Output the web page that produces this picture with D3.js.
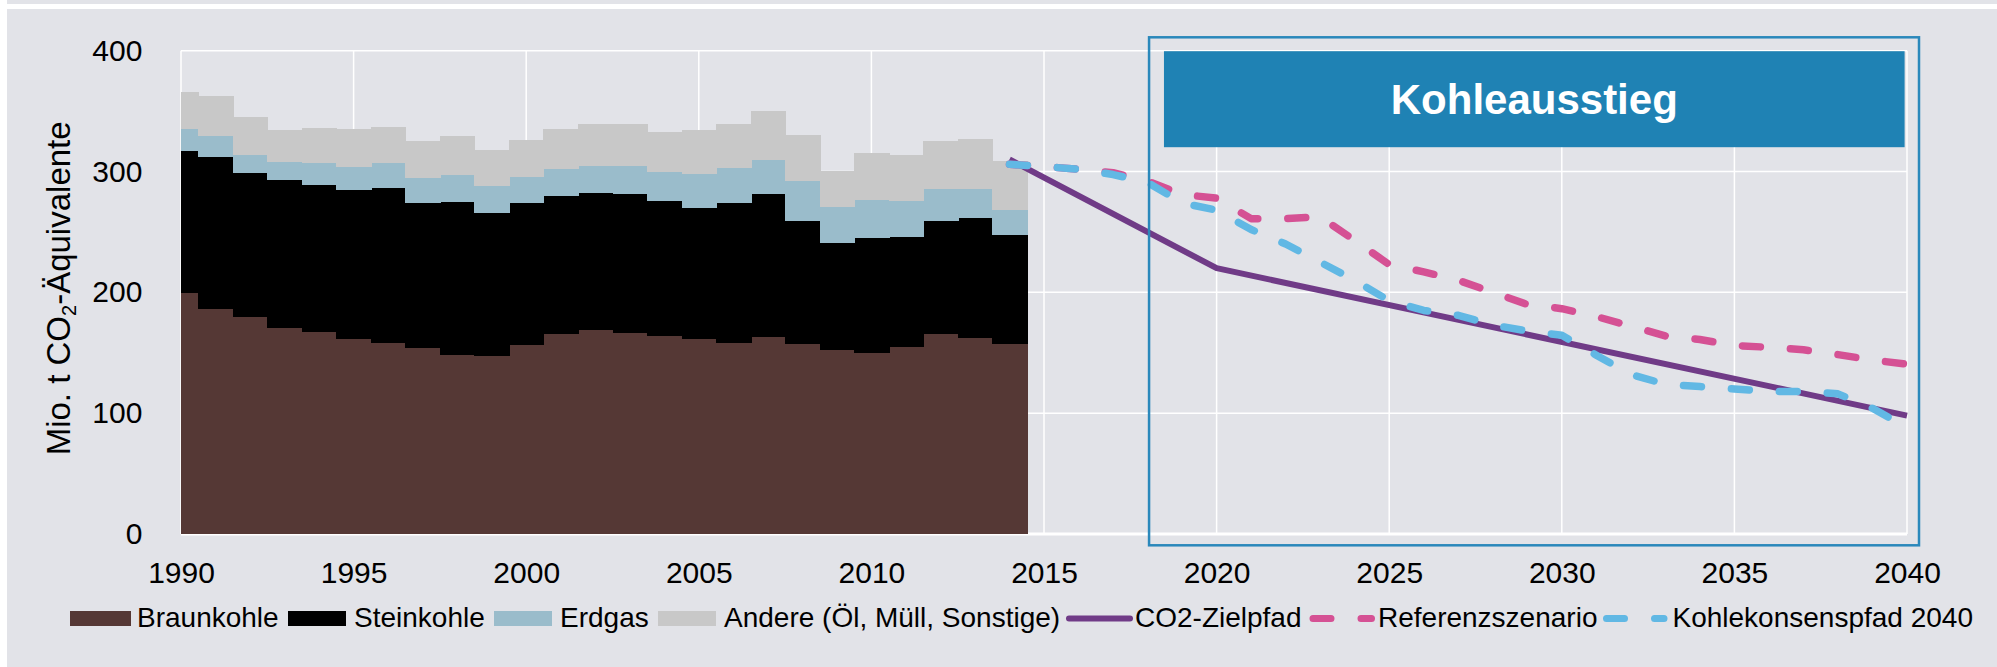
<!DOCTYPE html>
<html><head><meta charset="utf-8">
<script src="https://cdn.jsdelivr.net/npm/d3@7"></script>
<style>
html,body{margin:0;padding:0;background:#fff;}
svg{display:block;font-family:"Liberation Sans",Arial,sans-serif;}
</style></head><body>
<svg id="chart" width="1997" height="667"></svg>
<script>
// ---- data ----
const histYears = [1990,1991,1992,1993,1994,1995,1996,1997,1998,1999,2000,2001,2002,2003,2004,2005,2006,2007,2008,2009,2010,2011,2012,2013,2014];
const braunkohle = [200.0,186.8,180.2,171.1,168.0,162.0,158.9,154.5,148.7,148.2,157.0,166.1,170.0,167.0,164.5,162.0,159.0,163.6,157.8,152.9,150.7,155.9,166.1,162.8,158.1];
const steinkohle = [117.9,126.4,119.5,122.8,122.0,123.9,128.1,120.6,127.2,118.6,118.1,114.5,112.9,115.0,111.7,108.9,116.1,118.4,102.1,89.1,95.2,90.8,93.8,99.9,90.0];
const erdgas = [18.2,17.4,14.9,14.9,18.0,19.0,21.0,20.4,22.1,22.1,21.5,22.4,22.6,23.5,24.3,27.9,28.7,28.7,33.1,29.5,31.7,29.8,26.5,23.7,20.7];
const andere = [30.1,32.3,30.3,25.4,28.1,30.4,28.9,29.6,31.2,28.7,29.6,32.0,33.6,33.6,32.3,35.4,35.3,39.1,36.9,29.3,37.5,37.2,38.7,40.6,39.7];

const zielYears = [2014, 2020, 2040];
const zielpfad = [310, 220, 98];

const projYears = [2014,2015,2016,2017,2018,2019,2020,2021,2022,2023,2024,2025,2026,2027,2028,2029,2030,2031,2032,2033,2034,2035,2036,2037,2038,2039,2040];
const referenz = [306,304,302,299,292,281,278,261,261,262.5,243,223,217,210,200,190,186.5,180,172,164,161,156,154.5,152.5,148.5,144,140.5];
const kohlekonsens = [306,304,302,297.5,291,274,268,252,240,225,210,193,185,181,173,168,164.5,148,132,124,122,120,118,118,116,104,88];

const yTicks = [0,100,200,300,400];
const xTicks = [1990,1995,2000,2005,2010,2015,2020,2025,2030,2035,2040];

const stackKeys = ["Braunkohle","Steinkohle","Erdgas","Andere (Öl, Müll, Sonstige)"];
const stackColors = ["#553835","#000000","#9abccb","#c8c8c8"];
const lineNames = ["CO2-Zielpfad","Referenzszenario","Kohlekonsenspfad 2040"];
const lineColors = ["#703b87","#d55194","#61b8e4"];
const boxTitle = "Kohleausstieg";
const yTitle = ["Mio. t CO", "2", "-Äquivalente"];

// ---- layout ----
const svg = d3.select("#chart");
const bg = "#e2e3e8";
svg.append("rect").attr("x",0).attr("y",0).attr("width",1997).attr("height",667).attr("fill","#ffffff");
svg.append("rect").attr("x",7).attr("y",0).attr("width",1990).attr("height",4).attr("fill",bg);
svg.append("rect").attr("x",7).attr("y",9).attr("width",1990).attr("height",658).attr("fill",bg);

const x = d3.scaleLinear().domain([1990,2040]).range([181,1907]);
const y = d3.scaleLinear().domain([0,400]).range([534,50.7]);

const g = svg.append("g");

// gridlines
g.append("g").selectAll("line").data(yTicks).join("line")
  .attr("x1",x(1990)).attr("x2",x(2040))
  .attr("y1",d=>y(d)).attr("y2",d=>y(d))
  .attr("stroke","#fff").attr("stroke-width",d=>d===0?3:1.5);
g.append("g").selectAll("line").data(xTicks).join("line")
  .attr("x1",d=>x(d)).attr("x2",d=>x(d))
  .attr("y1",y(0)).attr("y2",y(400))
  .attr("stroke","#fff").attr("stroke-width",1.5);

// stacked bars
const rows = histYears.map((yr,i)=>({year:yr,
  "Braunkohle":braunkohle[i],"Steinkohle":steinkohle[i],"Erdgas":erdgas[i],
  "Andere (Öl, Müll, Sonstige)":andere[i]}));
const series = d3.stack().keys(stackKeys)(rows);
g.append("g").attr("shape-rendering","crispEdges").selectAll("g").data(series).join("g")
  .attr("fill",(d,i)=>stackColors[i])
  .selectAll("rect").data(d=>d).join("rect")
  .attr("x",d=>Math.round(x(Math.max(d.data.year-0.5,1990))))
  .attr("width",d=>Math.round(x(d.data.year+0.5))-Math.round(x(Math.max(d.data.year-0.5,1990)))+1)
  .attr("y",d=>Math.round(y(d[1])))
  .attr("height",d=>Math.round(y(d[0]))-Math.round(y(d[1]))+(d[0]===0?0:1));

// lines
const lineGen = d3.line().x(d=>x(d[0])).y(d=>y(d[1]));
g.append("path").datum(zielYears.map((yr,i)=>[yr,zielpfad[i]]))
  .attr("d",lineGen).attr("fill","none").attr("stroke",lineColors[0])
  .attr("stroke-width",6).attr("stroke-linejoin","round");
g.append("path").datum(projYears.map((yr,i)=>[yr,referenz[i]]))
  .attr("d",lineGen).attr("fill","none").attr("stroke",lineColors[1])
  .attr("stroke-width",7.5).attr("stroke-linecap","round").attr("stroke-linejoin","round")
  .attr("stroke-dasharray","18,30");
g.append("path").datum(projYears.map((yr,i)=>[yr,kohlekonsens[i]]))
  .attr("d",lineGen).attr("fill","none").attr("stroke",lineColors[2])
  .attr("stroke-width",7.5).attr("stroke-linecap","round").attr("stroke-linejoin","round")
  .attr("stroke-dasharray","18,30");

// Kohleausstieg frame & box
const fx0 = x(2018)+1.5, fx1 = x(2040)+12, fy0 = y(400)-13.4, fy1 = y(0)+11.3;
g.append("rect").attr("x",fx0).attr("y",fy0).attr("width",fx1-fx0).attr("height",fy1-fy0)
  .attr("fill","none").attr("stroke","#2a88bb").attr("stroke-width",2.5);
const bx0 = x(2018)+16.4, bx1 = x(2040)-2.4, by0 = y(400)+0.5, by1 = by0+96;
g.append("rect").attr("x",bx0).attr("y",by0).attr("width",bx1-bx0).attr("height",by1-by0)
  .attr("fill","#1f82b4");
g.append("text").attr("x",(bx0+bx1)/2).attr("y",(by0+by1)/2+15)
  .attr("text-anchor","middle").attr("fill","#fff")
  .attr("font-size",42).attr("font-weight","bold").text(boxTitle);

// axes
const yAxis = d3.axisLeft(y).tickValues(yTicks).tickSize(0).tickPadding(38.6);
const ya = svg.append("g").attr("transform",`translate(${x(1990)},0)`).call(yAxis);
ya.select(".domain").remove();
ya.selectAll("text").attr("font-size",30).attr("fill","#000").attr("font-family","Liberation Sans, Arial, sans-serif");

const xAxis = d3.axisBottom(x).tickValues(xTicks).tickFormat(d3.format("d")).tickSize(0).tickPadding(27.7);
const xa = svg.append("g").attr("transform",`translate(0,${y(0)})`).call(xAxis);
xa.select(".domain").remove();
xa.selectAll("text").attr("font-size",30).attr("fill","#000").attr("font-family","Liberation Sans, Arial, sans-serif");

// y title
const yt = svg.append("text").attr("transform",`translate(70,${(y(0)+y(400))/2-4}) rotate(-90)`)
  .attr("text-anchor","middle").attr("font-size",33).attr("fill","#000");
yt.append("tspan").text(yTitle[0]);
yt.append("tspan").attr("font-size",20).attr("dy",6).text(yTitle[1]);
yt.append("tspan").attr("dy",-6).text(yTitle[2]);

// legend
const legY = 618.5;
const legItems = [
  {type:"rect", color:stackColors[0], x0:70, x1:131, tx:137, label:stackKeys[0]},
  {type:"rect", color:stackColors[1], x0:288, x1:346, tx:354, label:stackKeys[1]},
  {type:"rect", color:stackColors[2], x0:494, x1:552, tx:560, label:stackKeys[2]},
  {type:"rect", color:stackColors[3], x0:658, x1:716, tx:724, label:stackKeys[3]},
  {type:"solid", color:lineColors[0], x0:1069, x1:1130, tx:1135, label:lineNames[0]},
  {type:"dash", color:lineColors[1], x0:1313, x1:1371.5, tx:1378, label:lineNames[1]},
  {type:"dash", color:lineColors[2], x0:1606.5, x1:1664, tx:1672.5, label:lineNames[2]}
];
const leg = svg.append("g");
legItems.forEach(it=>{
  if(it.type==="rect"){
    leg.append("rect").attr("x",it.x0).attr("y",legY-7.5).attr("width",it.x1-it.x0).attr("height",15).attr("fill",it.color);
  } else if(it.type==="solid"){
    leg.append("line").attr("x1",it.x0).attr("x2",it.x1).attr("y1",legY).attr("y2",legY)
      .attr("stroke",it.color).attr("stroke-width",6).attr("stroke-linecap","round");
  } else {
    leg.append("line").attr("x1",it.x0).attr("x2",it.x1).attr("y1",legY).attr("y2",legY)
      .attr("stroke",it.color).attr("stroke-width",7).attr("stroke-linecap","round").attr("stroke-dasharray","18,30");
  }
  leg.append("text").attr("x",it.tx).attr("y",legY+8).attr("font-size",28).attr("fill","#000").text(it.label);
});
</script>
</body></html>
